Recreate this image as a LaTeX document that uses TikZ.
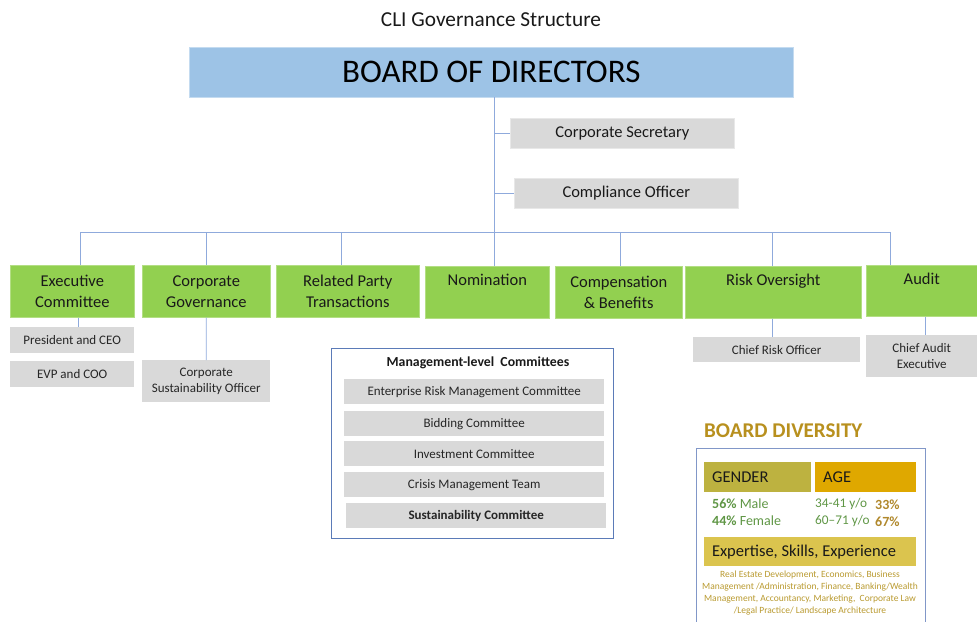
\documentclass[tikz,border=0pt]{standalone}
\usepackage{fontspec}
\setmainfont{Carlito}
\begin{document}
\begin{tikzpicture}[x=1pt,y=-1pt,
  fs/.style n args={2}{font=\fontsize{#1}{#2}\selectfont},
  link/.style={draw=linkblue,line width=0.8pt},
  boardbox/.style={fill=boardblue,draw=boardblue!60!white,line width=0.6pt,inner sep=0pt,anchor=north west,text=black},
  greenbox/.style={fill=cgreen,draw=cgreen!70!white,line width=0.6pt,inner sep=0pt,anchor=north west,align=center,fs={16.5}{21},text=black!90},
  greybox/.style={fill=cgrey,inner sep=0pt,anchor=north west,align=center,fs={13}{16},text=black!85},
  officebox/.style={fill=cgrey,draw=cgrey!60!white,line width=0.6pt,inner sep=0pt,anchor=north west,fs={16.5}{19},text=black!90},
  mgmtrow/.style={fill=cgrey,inner sep=0pt,anchor=north west,minimum width=260,minimum height=25,fs={13}{15},text=black!85},
  tagbox/.style={inner sep=0pt,anchor=north west,text=black!90},
]
\definecolor{linkblue}{HTML}{8FAADC}
\definecolor{boardblue}{HTML}{9DC3E6}
\definecolor{cgreen}{HTML}{92D050}
\definecolor{cgrey}{HTML}{D9D9D9}
\definecolor{frameblue}{HTML}{5B7BB8}
\definecolor{framelight}{HTML}{8197C8}
\definecolor{gendercol}{HTML}{BDB240}
\definecolor{agecol}{HTML}{DFA800}
\definecolor{expcol}{HTML}{DBC44E}
\definecolor{statgreen}{HTML}{5F9645}
\definecolor{pctgold}{HTML}{B0882C}
\definecolor{titlegold}{HTML}{B8901E}
\definecolor{smallgold}{HTML}{B99A30}

\useasboundingbox (0,0) rectangle (977,621);

% title
\node[fs={21.3}{24},text=black!90] (title) at (491,20) {CLI Governance Structure};

% board
\node[boardbox,minimum width=604,minimum height=50,fs={33}{36}] (board) at (189,47) {BOARD OF DIRECTORS};

% officers attached to the spine
\node[officebox,minimum width=224,minimum height=30] (secr) at (510,118) {Corporate Secretary};
\node[officebox,minimum width=224,minimum height=30] (comp) at (514,178) {Compliance Officer};

% board committees
\node[greenbox,minimum width=124,minimum height=52] (exec) at (10,265) {Executive\\Committee};
\node[greenbox,minimum width=128,minimum height=52] (cgov) at (142,265) {Corporate\\Governance};
\node[greenbox,minimum width=143,minimum height=52] (rpt)  at (276,265) {Related Party\\Transactions};
\node[greenbox,minimum width=124,minimum height=52] (nom)  at (425,266) {\raisebox{-2.5pt}{Nomination}\\\strut};
\node[greenbox,minimum width=127,minimum height=52] (cb)   at (555,266) {Compensation\\\& Benefits};
\node[greenbox,minimum width=176,minimum height=52] (risk) at (685,266) {\raisebox{-2.5pt}{Risk Oversight}\\\strut};
\node[greenbox,minimum width=111,minimum height=51] (aud)  at (866,265) {\raisebox{-2.5pt}{Audit}\\\strut};

% officers under committees
\node[greybox,minimum width=124,minimum height=26] (ceo)  at (10,327) {President and CEO};
\node[greybox,minimum width=124,minimum height=26] (coo)  at (10,361) {EVP and COO};
\node[greybox,minimum width=128,minimum height=42] (cso)  at (142,360) {Corporate\\Sustainability Officer};
\node[greybox,minimum width=167,minimum height=25] (cro)  at (693,337) {Chief Risk Officer};
\node[greybox,minimum width=111,minimum height=42] (cae)  at (866,335) {Chief Audit\\Executive};

% connectors
\coordinate (spine) at (494,97);
\coordinate (busL) at (80,232);
\coordinate (busR) at (890,232);
\draw[link] (spine) -- (spine |- nom.north);
\draw[link] (spine |- secr.west) -- (secr.west);
\draw[link] (spine |- comp.west) -- (comp.west);
\draw[link] (busL) -- (busR);
\coordinate (d1) at (80,232);
\coordinate (d2) at (206,232);
\coordinate (d3) at (341,232);
\coordinate (d5) at (620,232);
\coordinate (d6) at (772,232);
\coordinate (d7) at (890,232);
\draw[link] (d1) -- (d1 |- exec.north);
\draw[link] (d2) -- (d2 |- cgov.north);
\draw[link] (d3) -- (d3 |- rpt.north);
\draw[link] (d5) -- (d5 |- cb.north);
\draw[link] (d6) -- (d6 |- risk.north);
\draw[link] (d7) -- (d7 |- aud.north);
\coordinate (e1) at (78,0);
\draw[link] (exec.south -| e1) -- (ceo.north -| e1);
\draw[link] (cgov.south) -- (cso.north);
\coordinate (e6) at (772,0);
\draw[link] (risk.south -| e6) -- (cro.north -| e6);
\coordinate (e7) at (925,0);
\draw[link] (aud.south -| e7) -- (cae.north -| e7);

% management-level committees
\node[draw=frameblue,line width=0.8pt,minimum width=282,minimum height=190,inner sep=0pt,anchor=north west] (mgmt) at (331,348) {};
\node[font=\bfseries\fontsize{13.8}{15}\selectfont,text=black!90] (mgmttitle) at (478,363) {Management-level\ \ Committees};
\node[mgmtrow] (erm) at (344,379) {Enterprise Risk Management Committee};
\node[mgmtrow] (bid) at (344,411) {Bidding Committee};
\node[mgmtrow] (inv) at (344,441) {Investment Committee};
\node[mgmtrow] (cmt) at (344,472) {Crisis Management Team};
\node[mgmtrow,font=\bfseries\fontsize{13}{15}\selectfont] (sus) at (346,503) {Sustainability Committee};

% board diversity panel
\node[anchor=west,text=titlegold,font=\bfseries\fontsize{21}{24}\selectfont,inner sep=0pt] (divtitle) at (704,431) {BOARD DIVERSITY};
\node[draw=framelight,line width=0.8pt,minimum width=229,minimum height=190,inner sep=0pt,anchor=north west] (divframe) at (696,448) {};
\node[tagbox,fill=gendercol,minimum width=107,minimum height=30] (gender) at (704,462) {};
\node[anchor=west,fs={16.5}{18},text=black!90,inner sep=0pt] (gendertxt) at (712,477) {GENDER};
\node[tagbox,fill=agecol,minimum width=101,minimum height=30] (age) at (815,462) {};
\node[anchor=west,fs={16.5}{18},text=black!90,inner sep=0pt] (agetxt) at (823,477) {AGE};

\node[anchor=west,inner sep=0pt,text=statgreen,fs={14}{15}] (male) at (712,504) {\textbf{56\%} Male};
\node[anchor=west,inner sep=0pt,text=statgreen,fs={14}{15}] (female) at (712,521) {\textbf{44\%} Female};
\node[anchor=west,inner sep=0pt,text=statgreen,fs={13.3}{15}] (ageA) at (815,504) {34-41 y/o};
\node[anchor=west,inner sep=0pt,text=pctgold,font=\bfseries\fontsize{14}{15}\selectfont] (pctA) at (875,505) {33\%};
\node[anchor=west,inner sep=0pt,text=statgreen,fs={13.3}{15}] (ageB) at (815,521) {60--71 y/o};
\node[anchor=west,inner sep=0pt,text=pctgold,font=\bfseries\fontsize{14}{15}\selectfont] (pctB) at (875,522) {67\%};

\node[tagbox,fill=expcol,minimum width=212,minimum height=29] (exp) at (704,537) {};
\node[fs={16.5}{18},text=black!90,inner sep=0pt] (exptxt) at (804,552) {Expertise, Skills, Experience};
\node[anchor=north,align=center,inner sep=0pt,text=smallgold,fs={9.5}{12}] (expdetail) at (810,571)
  {Real Estate Development, Economics, Business\\
   Management /Administration, Finance, Banking/Wealth\\
   Management, Accountancy, Marketing,\ \ Corporate Law\\
   /Legal Practice/ Landscape Architecture};
\end{tikzpicture}
\end{document}
